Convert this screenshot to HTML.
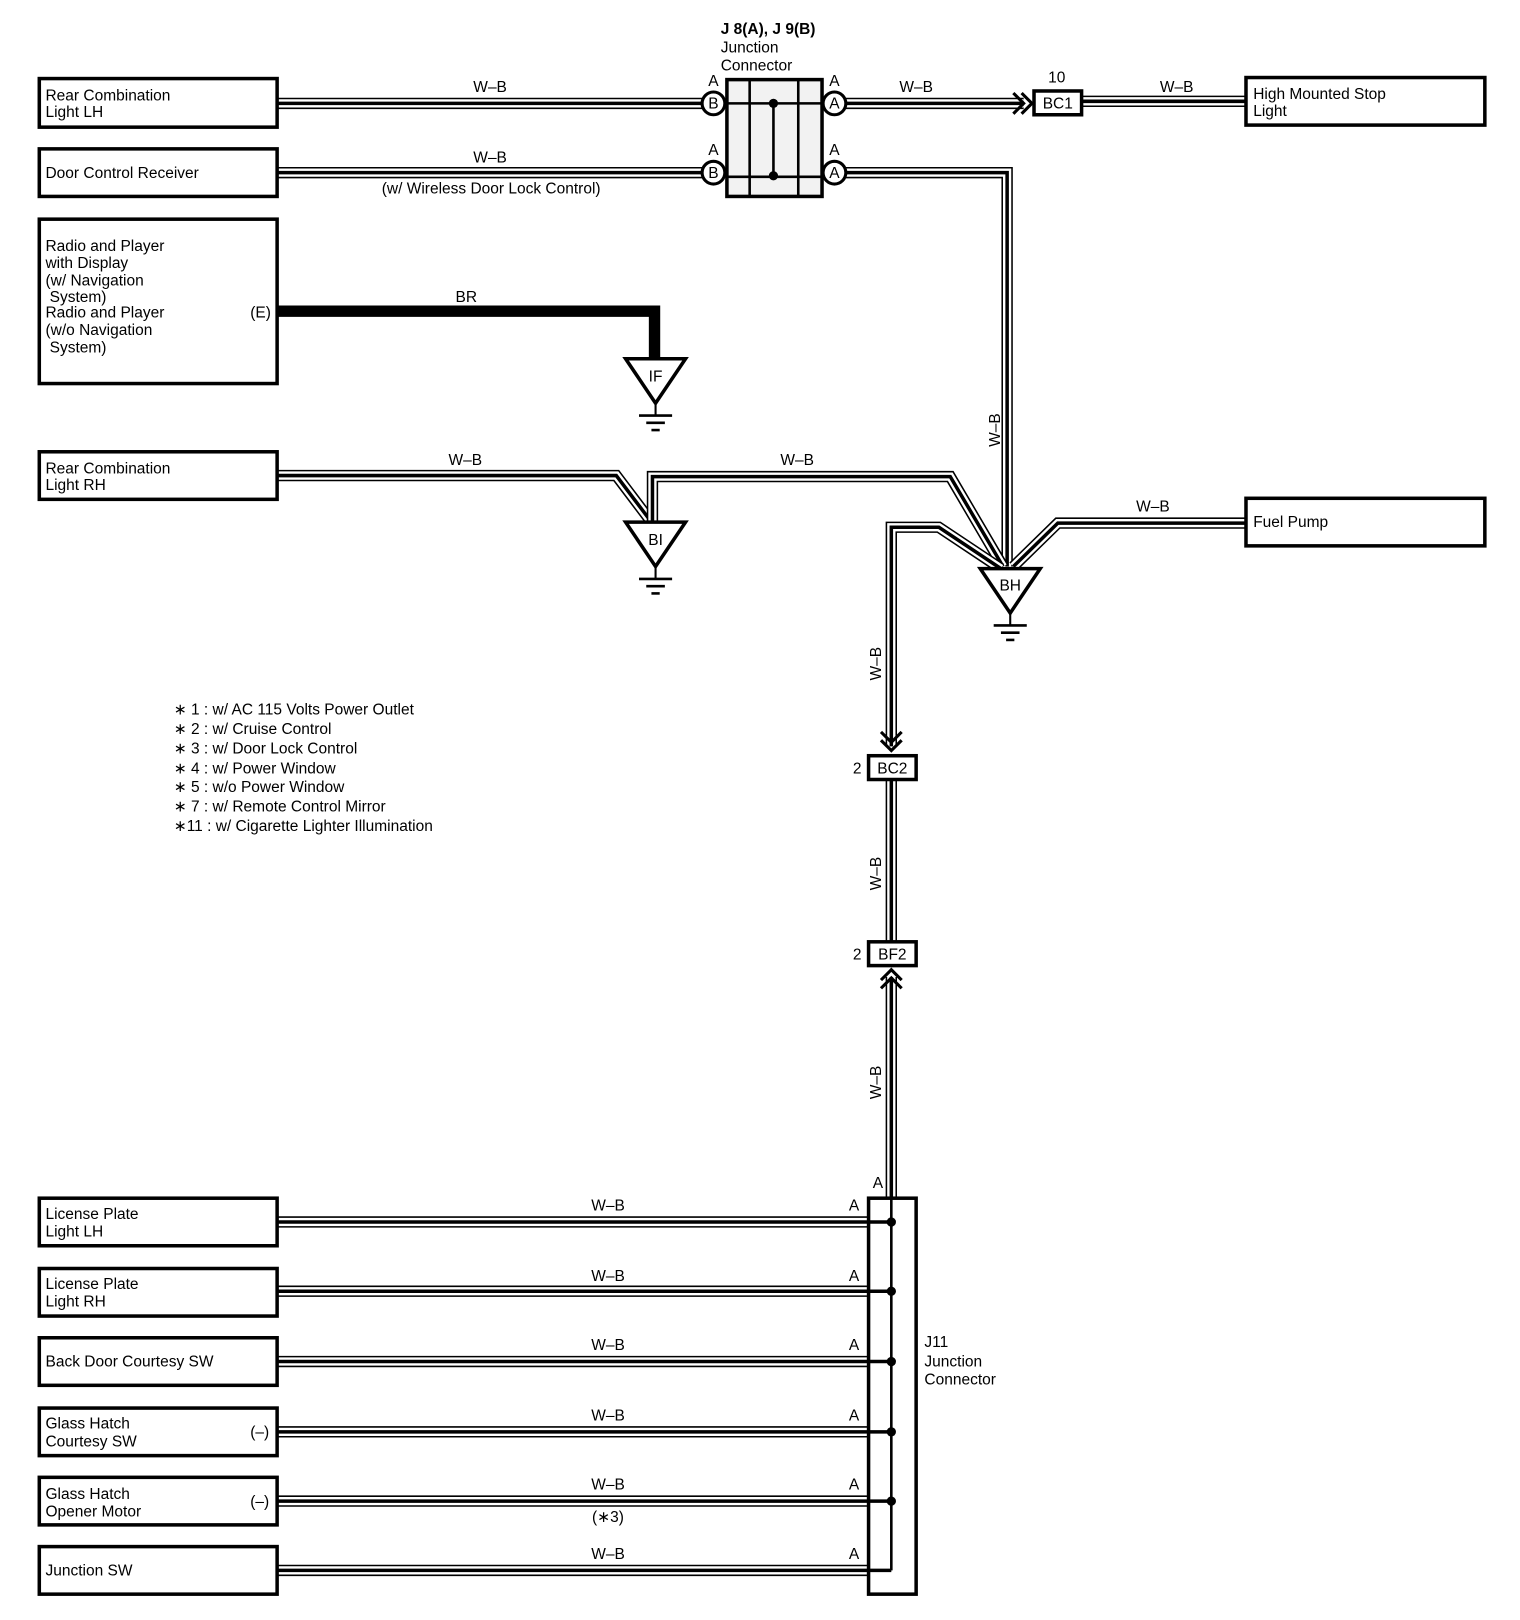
<!DOCTYPE html>
<html><head><meta charset="utf-8"><style>
html,body{margin:0;padding:0;background:#fff;}
svg{display:block;}
text{font-family:"Liberation Sans",Arial,sans-serif;font-size:15px;fill:#000;}
.w1{fill:none;stroke:#000;stroke-width:11;stroke-linejoin:miter;}
.w2{fill:none;stroke:#fff;stroke-width:8;stroke-linejoin:miter;}
.w3{fill:none;stroke:#000;stroke-width:3.4;stroke-linejoin:miter;}
.bx{fill:#fff;stroke:#000;stroke-width:3.4;}
</style></head><body>
<svg width="1520" height="1620" viewBox="0 0 1470 1567" preserveAspectRatio="none" xmlns="http://www.w3.org/2000/svg">
<defs>
<g id="gnd"><line x1="0" y1="0" x2="0" y2="12" stroke="#000" stroke-width="2"/><line x1="-16" y1="12" x2="16" y2="12" stroke="#000" stroke-width="2.5"/><line x1="-9" y1="19" x2="9" y2="19" stroke="#000" stroke-width="2.5"/><line x1="-4" y1="26" x2="4" y2="26" stroke="#000" stroke-width="2.5"/></g>
</defs>
<g id="wires">
<polyline class="w1" points="268,100 680,100"/><polyline class="w2" points="268,100 680,100"/><polyline class="w3" points="268,100 680,100"/>
<polyline class="w1" points="268,167 680,167"/><polyline class="w2" points="268,167 680,167"/><polyline class="w3" points="268,167 680,167"/>
<polyline class="w1" points="818,100 990,100"/><polyline class="w2" points="818,100 990,100"/><polyline class="w3" points="818,100 990,100"/>
<polyline class="w1" points="1046,98 1205,98"/><polyline class="w2" points="1046,98 1205,98"/><polyline class="w3" points="1046,98 1205,98"/>
<polyline class="w1" points="818,167 974,167 974,548"/><polyline class="w2" points="818,167 974,167 974,548"/><polyline class="w3" points="818,167 974,167 974,548"/>
<polyline class="w1" points="268,460 596,460 630,505"/><polyline class="w2" points="268,460 596,460 630,505"/><polyline class="w3" points="268,460 596,460 630,505"/>
<polyline class="w1" points="631,505 631,461 919,461 970,548"/><polyline class="w2" points="631,505 631,461 919,461 970,548"/><polyline class="w3" points="631,505 631,461 919,461 970,548"/>
<polyline class="w1" points="1205,506 1023,506 980,548"/><polyline class="w2" points="1205,506 1023,506 980,548"/><polyline class="w3" points="1205,506 1023,506 980,548"/>
<polyline class="w1" points="968,550 908,510 862,510 862,722"/><polyline class="w2" points="968,550 908,510 862,510 862,722"/><polyline class="w3" points="968,550 908,510 862,510 862,722"/>
<polyline class="w1" points="862,754 862,911"/><polyline class="w2" points="862,754 862,911"/><polyline class="w3" points="862,754 862,911"/>
<polyline class="w1" points="862,945 862,1160"/><polyline class="w2" points="862,945 862,1160"/><polyline class="w3" points="862,945 862,1160"/>
</g>
<polyline points="268,301 633,301 633,348" fill="none" stroke="#000" stroke-width="11"/>
<g>
<polyline class="w1" points="268,1182 840,1182"/><polyline class="w2" points="268,1182 840,1182"/><polyline class="w3" points="268,1182 862,1182"/>
<polyline class="w1" points="268,1249 840,1249"/><polyline class="w2" points="268,1249 840,1249"/><polyline class="w3" points="268,1249 862,1249"/>
<polyline class="w1" points="268,1317 840,1317"/><polyline class="w2" points="268,1317 840,1317"/><polyline class="w3" points="268,1317 862,1317"/>
<polyline class="w1" points="268,1385 840,1385"/><polyline class="w2" points="268,1385 840,1385"/><polyline class="w3" points="268,1385 862,1385"/>
<polyline class="w1" points="268,1452 840,1452"/><polyline class="w2" points="268,1452 840,1452"/><polyline class="w3" points="268,1452 862,1452"/>
<polyline class="w1" points="268,1519 840,1519"/><polyline class="w2" points="268,1519 840,1519"/><polyline class="w3" points="268,1519 862,1519"/>
</g>
<rect x="840" y="1159" width="46" height="383" fill="none" stroke="#000" stroke-width="3.4"/>
<line x1="862" y1="1159" x2="862" y2="1519" stroke="#000" stroke-width="2.5"/>
<g fill="#000"><circle cx="862" cy="1182" r="4.5"/><circle cx="862" cy="1249" r="4.5"/><circle cx="862" cy="1317" r="4.5"/><circle cx="862" cy="1385" r="4.5"/><circle cx="862" cy="1452" r="4.5"/></g>
<rect x="703" y="77" width="92" height="113" fill="#f2f2f2" stroke="#000" stroke-width="3.4"/>
<line x1="725" y1="77" x2="725" y2="190" stroke="#000" stroke-width="2.5"/>
<line x1="772" y1="77" x2="772" y2="190" stroke="#000" stroke-width="2.5"/>
<line x1="703" y1="100" x2="795" y2="100" stroke="#000" stroke-width="2.5"/>
<line x1="703" y1="171" x2="795" y2="171" stroke="#000" stroke-width="2.5"/>
<line x1="748" y1="100" x2="748" y2="171" stroke="#000" stroke-width="2.5"/>
<circle cx="748" cy="100" r="4.5"/><circle cx="748" cy="170" r="4.5"/>
<g fill="#fff" stroke="#000" stroke-width="3"><circle cx="690" cy="100" r="11"/><circle cx="690" cy="167" r="11"/><circle cx="807" cy="100" r="11"/><circle cx="807" cy="167" r="11"/></g>
<g text-anchor="middle" style="font-size:14px"><text x="690" y="105">B</text><text x="690" y="172">B</text><text x="807" y="105">A</text><text x="807" y="172">A</text>
<text x="690" y="83">A</text><text x="690" y="150">A</text><text x="807" y="83">A</text><text x="807" y="150">A</text></g>
<text x="697" y="33" style="font-weight:bold">J 8(A), J 9(B)</text>
<text x="697" y="51">Junction</text><text x="697" y="68">Connector</text>
<polyline points="980,90 990,100 980,110" fill="none" stroke="#000" stroke-width="3"/>
<polyline points="988,90 998,100 988,110" fill="none" stroke="#000" stroke-width="3"/>
<polyline points="852,708 862,718 872,708" fill="none" stroke="#000" stroke-width="3"/>
<polyline points="852,716 862,726 872,716" fill="none" stroke="#000" stroke-width="3"/>
<polyline points="852,956 862,946 872,956" fill="none" stroke="#000" stroke-width="3"/>
<polyline points="852,948 862,938 872,948" fill="none" stroke="#000" stroke-width="3"/>
<rect x="1000" y="88" width="46" height="23" class="bx"/><text x="1023" y="105" text-anchor="middle">BC1</text><text x="1022" y="80" text-anchor="middle">10</text>
<rect x="840" y="731" width="46" height="23" class="bx"/><text x="863" y="748" text-anchor="middle">BC2</text><text x="829" y="748" text-anchor="middle">2</text>
<rect x="840" y="911" width="46" height="23" class="bx"/><text x="863" y="928" text-anchor="middle">BF2</text><text x="829" y="928" text-anchor="middle">2</text>
<polygon points="605,347 663,347 634,390" class="bx"/><text x="634" y="369" text-anchor="middle">IF</text><use href="#gnd" x="634" y="390"/>
<polygon points="605,505 663,505 634,548" class="bx"/><text x="634" y="527" text-anchor="middle">BI</text><use href="#gnd" x="634" y="548"/>
<polygon points="948,550 1006,550 977,593" class="bx"/><text x="977" y="571" text-anchor="middle">BH</text><use href="#gnd" x="977" y="593"/>
<rect x="38" y="76" width="230" height="47" class="bx"/><text x="44" y="97">Rear Combination</text><text x="44" y="113">Light LH</text>
<rect x="38" y="144" width="230" height="46" class="bx"/><text x="44" y="172">Door Control Receiver</text>
<rect x="38" y="212" width="230" height="159" class="bx"/>
<text x="44" y="243">Radio and Player</text><text x="44" y="259">with Display</text><text x="44" y="276">(w/ Navigation</text><text x="48" y="292">System)</text><text x="44" y="307">Radio and Player</text><text x="44" y="324">(w/o Navigation</text><text x="48" y="341">System)</text><text x="242" y="307">(E)</text>
<rect x="38" y="437" width="230" height="46" class="bx"/><text x="44" y="458">Rear Combination</text><text x="44" y="474">Light RH</text>
<rect x="1205" y="75" width="231" height="46" class="bx"/><text x="1212" y="96">High Mounted Stop</text><text x="1212" y="112">Light</text>
<rect x="1205" y="482" width="231" height="46" class="bx"/><text x="1212" y="510">Fuel Pump</text>
<rect x="38" y="1159" width="230" height="46" class="bx"/><text x="44" y="1179">License Plate</text><text x="44" y="1196">Light LH</text>
<rect x="38" y="1227" width="230" height="46" class="bx"/><text x="44" y="1247">License Plate</text><text x="44" y="1264">Light RH</text>
<rect x="38" y="1294" width="230" height="46" class="bx"/><text x="44" y="1322">Back Door Courtesy SW</text>
<rect x="38" y="1362" width="230" height="46" class="bx"/><text x="44" y="1382">Glass Hatch</text><text x="44" y="1399">Courtesy SW</text><text x="242" y="1390">(–)</text>
<rect x="38" y="1429" width="230" height="46" class="bx"/><text x="44" y="1450">Glass Hatch</text><text x="44" y="1467">Opener Motor</text><text x="242" y="1457">(–)</text>
<rect x="38" y="1496" width="230" height="46" class="bx"/><text x="44" y="1524">Junction SW</text>
<text x="474" y="89" text-anchor="middle">W–B</text>
<text x="474" y="157" text-anchor="middle">W–B</text>
<text x="475" y="187" text-anchor="middle">(w/ Wireless Door Lock Control)</text>
<text x="451" y="292" text-anchor="middle">BR</text>
<text x="450" y="450" text-anchor="middle">W–B</text>
<text x="771" y="450" text-anchor="middle">W–B</text>
<text x="886" y="89" text-anchor="middle">W–B</text>
<text x="1138" y="89" text-anchor="middle">W–B</text>
<text x="1115" y="495" text-anchor="middle">W–B</text>
<text transform="translate(967,416) rotate(-90)" text-anchor="middle">W–B</text>
<text transform="translate(852,642) rotate(-90)" text-anchor="middle">W–B</text>
<text transform="translate(852,845) rotate(-90)" text-anchor="middle">W–B</text>
<text transform="translate(852,1047) rotate(-90)" text-anchor="middle">W–B</text>
<text x="849" y="1149" text-anchor="middle">A</text>
<g text-anchor="middle">
<text x="588" y="1171">W–B</text><text x="826" y="1171">A</text>
<text x="588" y="1239">W–B</text><text x="826" y="1239">A</text>
<text x="588" y="1306">W–B</text><text x="826" y="1306">A</text>
<text x="588" y="1374">W–B</text><text x="826" y="1374">A</text>
<text x="588" y="1441">W–B</text><text x="826" y="1441">A</text>
<text x="588" y="1472">(∗3)</text>
<text x="588" y="1508">W–B</text><text x="826" y="1508">A</text>
</g>
<text x="894" y="1303">J11</text><text x="894" y="1322">Junction</text><text x="894" y="1339">Connector</text>
<g style="font-size:14.5px">
<text x="168" y="691">∗ 1 : w/ AC 115 Volts Power Outlet</text>
<text x="168" y="710">∗ 2 : w/ Cruise Control</text>
<text x="168" y="729">∗ 3 : w/ Door Lock Control</text>
<text x="168" y="748">∗ 4 : w/ Power Window</text>
<text x="168" y="766">∗ 5 : w/o Power Window</text>
<text x="168" y="785">∗ 7 : w/ Remote Control Mirror</text>
<text x="168" y="804">∗11 : w/ Cigarette Lighter Illumination</text>
</g>
</svg>
</body></html>
